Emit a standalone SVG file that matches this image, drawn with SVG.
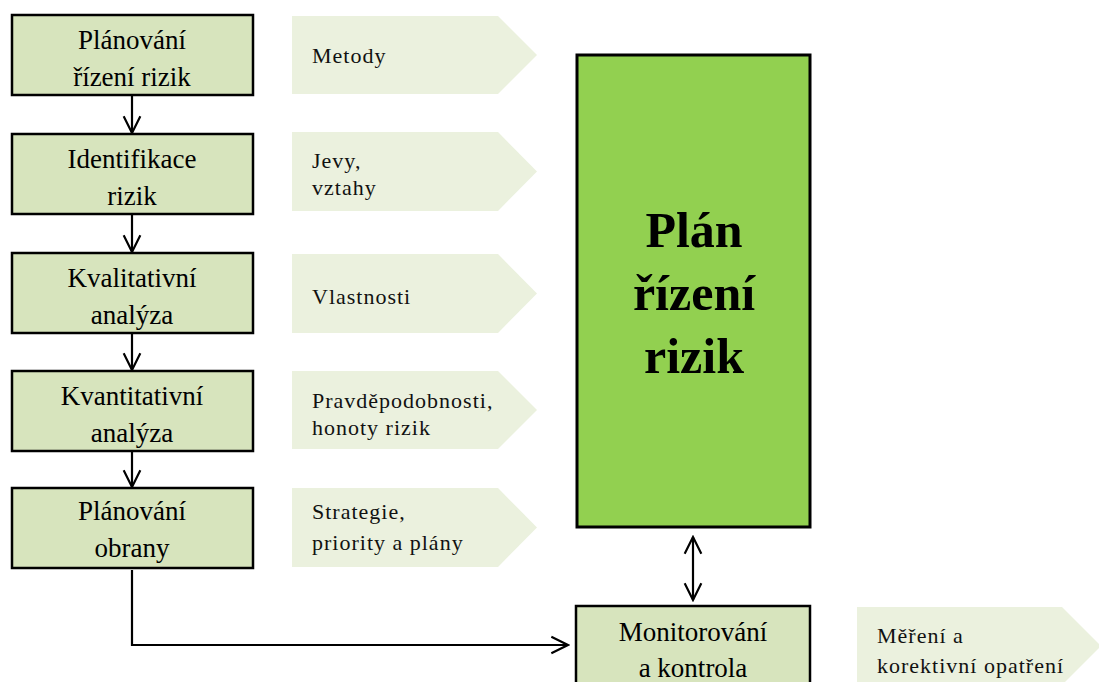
<svg xmlns="http://www.w3.org/2000/svg" width="1099" height="682" viewBox="0 0 1099 682">
<defs>
<style>
.box{fill:#D7E4BD;stroke:#000;stroke-width:2.5}
.big{fill:#92D050;stroke:#000;stroke-width:3}
.pent{fill:#EBF1DE;stroke:none}
.bt{font-family:"Liberation Serif","Times New Roman",serif;font-size:27px;fill:#000;text-anchor:middle}
.pt{font-family:"Liberation Serif","Times New Roman",serif;font-size:22px;fill:#111;letter-spacing:1px}
.bigt{font-family:"Liberation Serif","Times New Roman",serif;font-size:50px;font-weight:bold;fill:#000;text-anchor:middle}
.con{fill:none;stroke:#000;stroke-width:2.2}
</style>
<marker id="ah" viewBox="0 0 12 12" refX="11" refY="6" markerWidth="20" markerHeight="20" markerUnits="userSpaceOnUse" orient="auto-start-reverse">
<path d="M1,1 L11,6 L1,11" fill="none" stroke="#000" stroke-width="1.3"/>
</marker>
</defs>
<rect width="1099" height="682" fill="#fff"/>

<g id="pentagons">
<g id="p1"><polygon class="pent" points="292,16 498,16 537,55 498,94 292,94"/><text class="pt" x="312" y="63">Metody</text></g>
<g id="p2"><polygon class="pent" points="292,132 498,132 537,171.5 498,211 292,211"/><text class="pt" x="312" y="168">Jevy,</text><text class="pt" x="312" y="195">vztahy</text></g>
<g id="p3"><polygon class="pent" points="292,254 498,254 537,293.5 498,333 292,333"/><text class="pt" x="312" y="304">Vlastnosti</text></g>
<g id="p4"><polygon class="pent" points="292,371 498,371 537,410 498,449 292,449"/><text class="pt" x="312" y="408">Pravděpodobnosti,</text><text class="pt" x="312" y="435">honoty rizik</text></g>
<g id="p5"><polygon class="pent" points="292,488 498,488 537,527.5 498,567 292,567"/><text class="pt" x="312" y="519">Strategie,</text><text class="pt" x="312" y="550">priority a plány</text></g>
<g id="p6"><polygon class="pent" points="857,607 1062,607 1101,646 1062,685 857,685"/><text class="pt" x="877" y="643">Měření a</text><text class="pt" x="877" y="673">korektivní opatření</text></g>
</g>

<g id="n1"><rect class="box" x="12" y="15" width="241" height="80"/><text class="bt" x="132" y="49">Plánování</text><text class="bt" x="132" y="86">řízení rizik</text></g>
<g id="n2"><rect class="box" x="12" y="134" width="241" height="80"/><text class="bt" x="132" y="168">Identifikace</text><text class="bt" x="132" y="205">rizik</text></g>
<g id="n3"><rect class="box" x="12" y="253" width="241" height="80"/><text class="bt" x="132" y="287">Kvalitativní</text><text class="bt" x="132" y="324">analýza</text></g>
<g id="n4"><rect class="box" x="12" y="371" width="241" height="80"/><text class="bt" x="132" y="405">Kvantitativní</text><text class="bt" x="132" y="442">analýza</text></g>
<g id="n5"><rect class="box" x="12" y="488" width="241" height="80"/><text class="bt" x="132" y="520">Plánování</text><text class="bt" x="132" y="557">obrany</text></g>

<g id="plan"><rect class="big" x="577" y="55" width="233" height="472"/><text class="bigt" x="694" y="247">Plán</text><text class="bigt" x="694" y="310">řízení</text><text class="bigt" x="694" y="373">rizik</text></g>

<g id="monitor"><rect class="box" x="576" y="606" width="234" height="82"/><text class="bt" x="693" y="641">Monitorování</text><text class="bt" x="693" y="677">a kontrola</text></g>

<g id="connectors">
<line class="con" x1="132" y1="96" x2="132" y2="133" marker-end="url(#ah)"/>
<line class="con" x1="132" y1="215" x2="132" y2="252" marker-end="url(#ah)"/>
<line class="con" x1="132" y1="334" x2="132" y2="370" marker-end="url(#ah)"/>
<line class="con" x1="132" y1="452" x2="132" y2="487" marker-end="url(#ah)"/>
<polyline class="con" points="132,570 132,645 568,645" marker-end="url(#ah)"/>
<line class="con" x1="693" y1="537" x2="693" y2="600" marker-start="url(#ah)" marker-end="url(#ah)"/>
</g>
</svg>
